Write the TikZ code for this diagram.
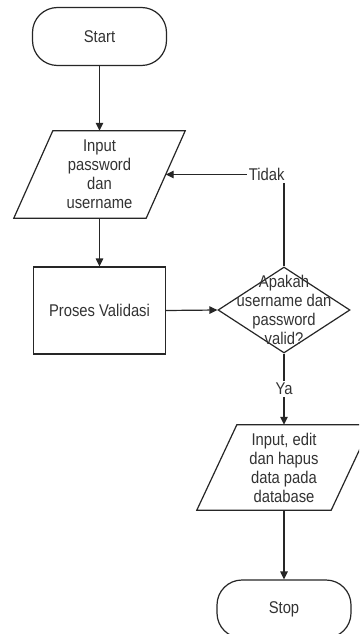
\documentclass[tikz,border=0pt]{standalone}
\usepackage{fontspec}
\setmainfont{Liberation Sans}[FakeStretch=0.87]
\usetikzlibrary{arrows.meta,shapes.geometric}
\begin{document}
\begin{tikzpicture}[x=1bp,y=-1bp,
  every node/.style={font=\fontsize{17bp}{19bp}\selectfont, text=black!80, align=center},
  line/.style={draw=black!85, line width=1.2bp},
  arr/.style={line, -{Triangle[length=8bp,width=7.5bp]}},
  term/.style={line, rectangle, rounded corners=25bp, minimum width=134bp, minimum height=58bp},
  procbox/.style={line, rectangle, minimum width=132bp, minimum height=87bp},
  parabox/.style={rectangle, inner sep=0pt, minimum width=134bp, minimum height=86bp},
  dec/.style={line, diamond, minimum width=132bp, minimum height=86bp, inner sep=0pt},
  lbl/.style={fill=white, inner sep=2bp}
]
\clip (0,0) rectangle (359,634);
\fill[white] (0,0) rectangle (359,634);

\node[term] (start) at (99.5,36.5) {Start};
\node[parabox, minimum width=132bp, minimum height=87bp] (in1) at (99.5,174.5) {Input\\password\\dan\\username};
\draw[line] ([xshift=19.5bp]in1.north west) -- ([xshift=19.5bp]in1.north east)
  -- ([xshift=-19.5bp]in1.south east) -- ([xshift=-19.5bp]in1.south west) -- cycle;
\node[procbox] (proc) at (99.5,310.5) {Proses Validasi};
\node[dec] (dia) at (284,310) {};
\node (diatext) at (284,310) {Apakah\\username dan\\password\\valid?};
\node[parabox, minimum width=134bp, minimum height=85bp] (out) at (284,467.5) {Input, edit\\dan hapus\\data pada\\database};
\draw[line] ([xshift=20bp]out.north west) -- ([xshift=20bp]out.north east)
  -- ([xshift=-20bp]out.south east) -- ([xshift=-20bp]out.south west) -- cycle;
\node[term] (stop) at (284,609) {Stop};

\draw[arr] (start.south) -- (in1.north);
\draw[arr] (in1.south) -- (proc.north);
\draw[arr] (proc.east) -- (dia.west);
\draw[arr] (dia.north) |- (in1.east) node[pos=0.5, lbl, anchor=east, xshift=3bp] {Tidak};
\draw[arr] (dia.south) -- (out.north) node[pos=0.5, lbl] {Ya};
\draw[arr] (out.south) -- (stop.north);
\end{tikzpicture}
\end{document}
